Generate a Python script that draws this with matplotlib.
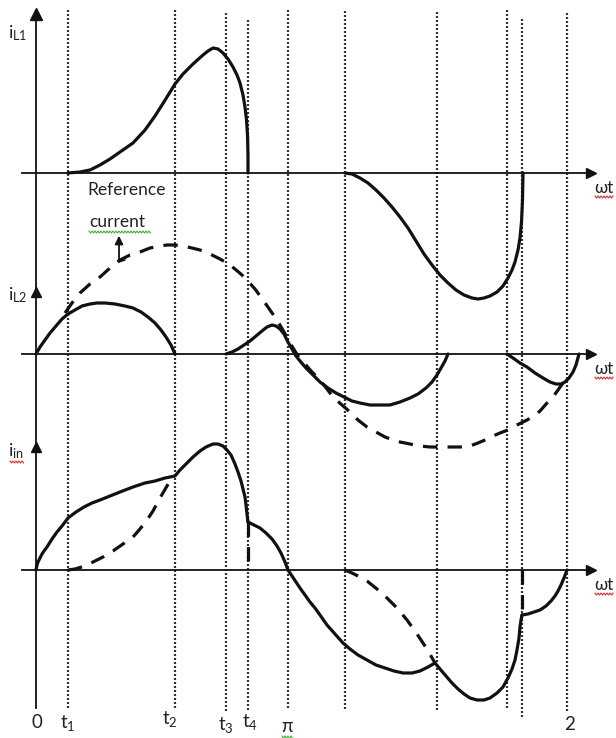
import numpy as np
import matplotlib.pyplot as plt

# ---------------------------------------------------------------
# Waveform sketch: inductor currents iL1, iL2 and input current iin
# over one line cycle.  Coordinates are drawing units (px-like),
# each trace is given as an offset from its own zero line.
# ---------------------------------------------------------------

plt.rcParams.update({
    'font.family': ['Lato', 'DejaVu Sans'],
    'mathtext.fontset': 'custom',
    'mathtext.rm': 'Lato',
    'mathtext.it': 'Lato:italic',
})

# zero lines of the three traces
BASE_L1 = 173
BASE_L2 = 354
BASE_IN = 570

# switching instants (vertical guides) and their extents
event_x = [68, 175, 226, 248, 288, 345, 437, 507, 522, 567]
event_top = [10, 10, 13, 20, 10, 11, 12, 10, 19, 13]
event_bot = [708, 708, 711, 712, 708, 710, 711, 708, 717, 711]

tick_x = [37, 68, 170, 226, 250, 287, 570]
tick_y = [722, 723, 719, 725, 722, 726, 725]
tick_text = ['0', r'$\mathrm{t}_1$', r'$\mathrm{t}_2$', r'$\mathrm{t}_3$',
             r'$\mathrm{t}_4$', r'$\mathrm{\pi}$', '2']

# iL1 positive pulse
l1a_x = [68, 80, 90, 100, 110, 120, 133, 145, 155, 162, 167, 175, 183, 193,
         203, 208, 213, 218, 223, 228, 233, 237, 240, 243, 245, 246.5,
         247.5, 248, 248]
l1a_v = [0, 1, 3, 8, 14, 21, 30, 43, 57, 68, 76, 89, 99, 109,
         118, 122, 125, 124, 120, 114, 106, 98, 90, 78, 66, 53,
         38, 18, 0]

# iL1 negative pulse
l1b_x = [345, 352, 360, 368, 376, 384, 392, 400, 408, 416, 424, 432, 440,
         448, 456, 464, 472, 478, 484, 490, 497, 503, 508, 512, 515, 518,
         520, 521.5, 522.5, 523]
l1b_v = [0, -1, -5, -10, -17, -25, -34, -44, -55, -68, -81, -92, -102,
         -110, -117, -122, -125, -126, -125, -123, -119, -113, -105, -97,
         -89, -77, -65, -49, -27, 0]

# iL2 segments
l2a_x = [36, 40, 45, 50, 56, 62, 68, 75, 82, 90, 97, 105, 115, 125, 133,
         141, 148, 155, 161, 166, 171, 175]
l2a_v = [0, 7, 14, 21, 28, 35, 40, 44, 48, 50, 51, 51, 50, 48, 46,
         42, 37, 31, 24, 17, 9, 0]
l2b_x = [226, 232, 238, 244, 250, 256, 262, 267, 272, 276, 280, 284, 288,
         292, 296, 300, 306, 313, 320, 328, 336, 344, 352, 360, 370, 380,
         390, 400, 410, 418, 426, 432, 437, 441, 445, 448]
l2b_v = [0, 2, 5, 9, 13, 18, 23, 27, 29, 28, 25, 20, 12,
         5, -2, -7, -14, -21, -28, -34, -39, -43, -47, -49, -51, -51,
         -51, -48, -44, -40, -34, -28, -21, -14, -7, 0]
l2c_x = [507, 513, 520, 527, 535, 543, 550, 556, 561, 565, 569, 573, 576,
         579]
l2c_v = [0, -4, -9, -13, -19, -24, -28, -30, -30, -28, -24, -18, -11, 0]

# sinusoidal reference current
ref_x = [65, 72, 80, 90, 100, 110, 120, 130, 140, 150, 160, 167, 175, 183,
         192, 200, 210, 220, 227, 235, 242, 247, 255, 263, 270, 277, 284,
         290, 298, 305, 312, 320, 327, 333, 342, 350, 358, 367, 376, 385,
         393, 400, 410, 420, 430, 440, 450, 460, 470, 478, 485, 493, 500,
         508, 515, 521, 527, 534, 540, 547, 553, 558, 563, 568]
ref_v = [41, 51, 61, 70, 77, 86, 94, 99, 102, 106, 108, 109, 109, 108,
         106, 104, 100, 95, 91, 85, 79, 74, 65, 54, 44, 34, 22,
         11, -2, -10, -18, -26, -35, -43, -51, -58, -66, -73, -78, -83,
         -86, -88, -90, -92, -93, -93, -93, -93, -92, -89, -86, -82, -79,
         -76, -72, -69, -66, -62, -57, -49, -43, -36, -29, -22]

# input current, solid segments
ina_x = [36, 37, 38, 40, 42, 44, 47, 52, 57, 62, 68, 76, 84, 92, 100, 110,
         120, 133, 145, 155, 165, 175, 180, 186, 193, 200, 206, 213, 218,
         223, 227, 231, 235, 238, 241, 243, 245, 246, 247, 248]
ina_v = [0, 5, 8, 12, 16, 19, 23, 31, 38, 44, 52, 58, 63, 67, 70, 74,
         78, 83, 87, 89, 92, 94, 100, 106, 113, 119, 123, 126, 126,
         124, 120, 115, 106, 98, 89, 81, 73, 65, 56, 48]
inb_x = [248, 254, 260, 266, 272, 277, 281, 285, 288, 292, 296, 300, 305,
         310, 315, 320, 327, 335, 343, 350, 358, 367, 376, 385, 394, 403,
         412, 420, 428, 435]
inb_v = [48, 45, 42, 37, 31, 24, 17, 8, 0, -6, -12, -18, -25,
         -32, -38, -45, -55, -64, -73, -79, -85, -90, -95, -98, -101, -103,
         -103, -101, -97, -93]
inc_x = [435, 440, 446, 452, 458, 464, 470, 477, 484, 490, 497, 503, 508,
         512, 515, 517, 519, 520, 521, 522]
inc_v = [-93, -99, -106, -113, -119, -124, -128, -130, -130, -128, -123,
         -117, -108, -99, -90, -80, -68, -57, -50, -45]
ind_x = [522, 528, 534, 540, 546, 551, 555, 558, 561, 564, 567]
ind_v = [-45, -44, -42, -40, -36, -31, -26, -21, -15, -8, 0]

# input current, dashed segments
ind1_x = [68, 75, 85, 93, 103, 113, 123, 133, 140, 147, 153, 160, 167, 173]
ind1_v = [0, 1, 4, 8, 13, 19, 26, 33, 41, 50, 59, 72, 84, 94]
ind2_x = [248, 248]
ind2_v = [48, 0]
ind3_x = [345, 352, 360, 367, 377, 387, 397, 407, 417, 427, 435]
ind3_v = [0, -3, -7, -11, -19, -28, -38, -50, -64, -79, -93]
ind4_x = [522, 522]
ind4_v = [0, -45]

INK = '#111111'
TXT = '#222222'
SOLID_LW = 2.3
DASH = (0, (4.5, 3.2))

fig = plt.figure(figsize=(6.16, 7.38), dpi=100)
ax = fig.add_axes([0, 0, 1, 1])
ax.set_xlim(0, 616)
ax.set_ylim(738, 0)
ax.axis('off')


def trace(xs, vs, base, dashed=False):
    ys = base - np.asarray(vs, dtype=float)
    ax.plot(xs, ys, color=INK, lw=SOLID_LW,
            linestyle=DASH if dashed else '-',
            solid_capstyle='round', solid_joinstyle='round', zorder=4)


def squiggle(x0, x1, y, color):
    xs = np.arange(x0, x1 + 0.1, 1.5)
    ys = y + np.where(np.arange(len(xs)) % 2 == 0, -1.0, 1.0)
    ax.plot(xs, ys, color=color, lw=0.8, zorder=5)


# vertical guides
for x, t, b in zip(event_x, event_top, event_bot):
    ax.plot([x, x], [t, b], color='#333333', lw=1.6,
            linestyle=(0, (0.9, 0.9)), zorder=2)

# axes
ax.plot([36, 36], [14, 708], color=INK, lw=1.3, zorder=3)
ax.plot(36, 14, marker='^', ms=8, color=INK, zorder=3)
ax.plot(36, 292, marker='^', ms=7.5, color=INK, zorder=3)
ax.plot(36, 447, marker='^', ms=7.5, color=INK, zorder=3)
for base in (BASE_L1, BASE_L2, BASE_IN):
    ax.plot([22, 590], [base, base], color=INK, lw=1.3, zorder=3)
    ax.plot(591, base, marker='>', ms=7, color=INK, zorder=3)
    ax.text(594, base + 15, r'ωt', fontsize=12.5, color=TXT,
            ha='left', va='center')
    squiggle(595, 613, base + 24, '#e03030')

# iL1
trace(l1a_x, l1a_v, BASE_L1)
trace(l1b_x, l1b_v, BASE_L1)

# iL2 with reference
trace(l2a_x, l2a_v, BASE_L2)
trace(l2b_x, l2b_v, BASE_L2)
trace(l2c_x, l2c_v, BASE_L2)
trace(ref_x, ref_v, BASE_L2, dashed=True)

# iin
trace(ina_x, ina_v, BASE_IN)
trace(inb_x, inb_v, BASE_IN)
trace(inc_x, inc_v, BASE_IN)
trace(ind_x, ind_v, BASE_IN)
for xs, vs in ((ind1_x, ind1_v), (ind2_x, ind2_v),
               (ind3_x, ind3_v), (ind4_x, ind4_v)):
    trace(xs, vs, BASE_IN, dashed=True)

# axis names
ax.text(8, 33, r'$\mathrm{i}_{\mathrm{L1}}$', fontsize=13, color=TXT,
        ha='left', va='center')
ax.text(8, 295, r'$\mathrm{i}_{\mathrm{L2}}$', fontsize=13, color=TXT,
        ha='left', va='center')
ax.text(8, 451, r'$\mathrm{i}_{\mathrm{in}}$', fontsize=13, color=TXT,
        ha='left', va='center')
squiggle(10, 24, 462, '#e03030')

# reference current annotation
ax.text(87, 190, 'Reference', fontsize=12.5, color=TXT, ha='left', va='center')
ax.text(89, 222, 'current', fontsize=12.5, color=TXT, ha='left', va='center')
squiggle(89, 151, 232, '#40b040')
ax.annotate('', xy=(119, 233), xytext=(119, 262),
            arrowprops=dict(arrowstyle='-|>', color=INK, lw=1.3,
                            mutation_scale=12))
ax.plot([119, 125], [262, 260], color=INK, lw=1.0)

# instant labels along the bottom
for x, y, s in zip(tick_x, tick_y, tick_text):
    ax.text(x, y, s, fontsize=13.5, color=TXT, ha='center', va='center')
squiggle(282, 293, 737, '#40b040')

fig.savefig('out.png', dpi=100)
